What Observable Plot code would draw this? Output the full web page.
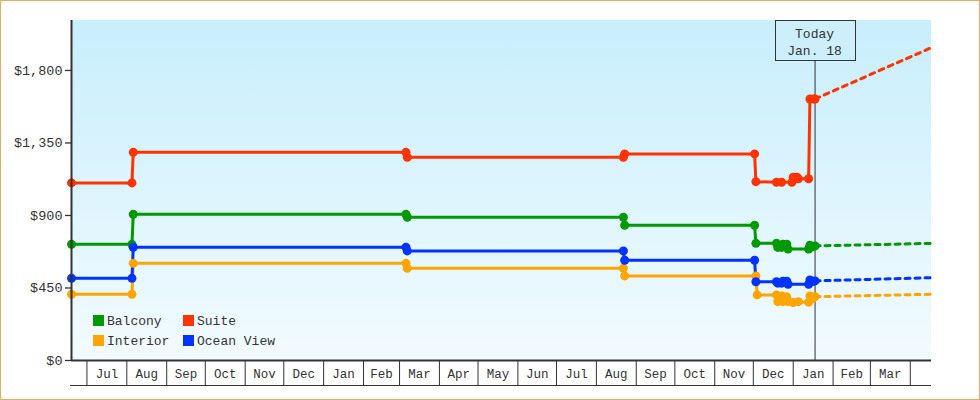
<!DOCTYPE html>
<html>
<head>
<meta charset="utf-8">
<script src="https://cdn.jsdelivr.net/npm/d3@7"></script>
<script src="https://cdn.jsdelivr.net/npm/@observablehq/plot@0.6"></script>
<style>
  body { margin: 0; background: #fff; }
  #chart svg { display: block; }
</style>
</head>
<body>
<div id="chart"></div>
<script>
// ---- data ----
const seriesNames = ["Balcony", "Suite", "Interior", "Ocean View"];
const seriesColors = ["#009900", "#ff3300", "#ffa500", "#0033ff"];

const balcony = [
  ["2022-06-19", 721], ["2022-08-05", 721], ["2022-08-06", 907],
  ["2023-03-06", 907], ["2023-03-07", 889], ["2023-08-22", 889], ["2023-08-23", 839],
  ["2023-12-02", 839], ["2023-12-03", 727], ["2023-12-19", 727], ["2023-12-20", 702],
  ["2023-12-23", 702], ["2023-12-24", 722], ["2023-12-27", 722], ["2023-12-28", 692],
  ["2024-01-13", 692], ["2024-01-14", 716], ["2024-01-16", 706], ["2024-01-18", 711]
];
const suite = [
  ["2022-06-19", 1102], ["2022-08-05", 1102], ["2022-08-06", 1292],
  ["2023-03-06", 1292], ["2023-03-07", 1261], ["2023-08-22", 1261], ["2023-08-23", 1282],
  ["2023-12-02", 1282], ["2023-12-03", 1110], ["2023-12-19", 1106], ["2023-12-23", 1106],
  ["2023-12-31", 1106], ["2024-01-01", 1137], ["2024-01-04", 1137], ["2024-01-05", 1128],
  ["2024-01-13", 1128], ["2024-01-14", 1623], ["2024-01-17", 1623], ["2024-01-18", 1623]
];
const interior = [
  ["2022-06-19", 411], ["2022-08-05", 411], ["2022-08-06", 603],
  ["2023-03-06", 603], ["2023-03-07", 572], ["2023-08-22", 572], ["2023-08-23", 525],
  ["2023-12-03", 525], ["2023-12-04", 407], ["2023-12-19", 407], ["2023-12-20", 365],
  ["2023-12-23", 400], ["2023-12-24", 365], ["2023-12-27", 395], ["2023-12-28", 365],
  ["2024-01-01", 360], ["2024-01-05", 365], ["2024-01-13", 362], ["2024-01-14", 400],
  ["2024-01-16", 385], ["2024-01-18", 396]
];
const oceanView = [
  ["2022-06-19", 510], ["2022-08-05", 510], ["2022-08-06", 703],
  ["2023-03-06", 703], ["2023-03-07", 680], ["2023-08-22", 680], ["2023-08-23", 622],
  ["2023-12-02", 622], ["2023-12-03", 489], ["2023-12-19", 489], ["2023-12-20", 480],
  ["2023-12-23", 480], ["2023-12-24", 492], ["2023-12-27", 492], ["2023-12-28", 473],
  ["2024-01-13", 473], ["2024-01-14", 500], ["2024-01-16", 490], ["2024-01-18", 494]
];
const observed = [balcony, suite, interior, oceanView];
const projectedEnd = [727, 1942, 411, 514];

const xDomain = ["2022-06-19", "2024-04-17"];
const todayDate = "2024-01-18";
const todayLabel = ["Today", "Jan. 18"];
const yTicks = [0, 450, 900, 1350, 1800];
const monthStarts = [
  "2022-07-01", "2022-08-01", "2022-09-01", "2022-10-01", "2022-11-01", "2022-12-01",
  "2023-01-01", "2023-02-01", "2023-03-01", "2023-04-01", "2023-05-01", "2023-06-01",
  "2023-07-01", "2023-08-01", "2023-09-01", "2023-10-01", "2023-11-01", "2023-12-01",
  "2024-01-01", "2024-02-01", "2024-03-01", "2024-04-01"
];
const monthLabels = ["Jul", "Aug", "Sep", "Oct", "Nov", "Dec", "Jan", "Feb", "Mar", "Apr", "May", "Jun",
  "Jul", "Aug", "Sep", "Oct", "Nov", "Dec", "Jan", "Feb", "Mar"];

// ---- build tables ----
const parse = d3.utcParse("%Y-%m-%d");
const xStart = parse(xDomain[0]);
const xEnd = new Date(+parse(xDomain[1]) + 12 * 3600 * 1000);
const today = parse(todayDate);

const obs = [];
seriesNames.forEach((name, i) => {
  for (const [d, p] of observed[i]) obs.push({series: name, date: parse(d), price: p});
});
const proj = seriesNames.flatMap((name, i) => {
  const last = observed[i][observed[i].length - 1];
  return [
    {series: name, date: parse(last[0]), price: last[1]},
    {series: name, date: xEnd, price: projectedEnd[i]}
  ];
});
const startDates = monthStarts.map(parse);
const midDates = monthLabels.map((_, i) => new Date((+startDates[i] + +startDates[i + 1]) / 2));
const labelByTime = new Map(midDates.map((d, i) => [+d, monthLabels[i]]));

const FONT = "'Liberation Mono', 'DejaVu Sans Mono', monospace";
const INK = "#333";

const backgroundMark = (index, scales, values, dims) => {
  const g = d3.create("svg:g");
  const grad = g.append("defs").append("linearGradient")
    .attr("id", "bgGrad").attr("x1", 0).attr("y1", 0).attr("x2", 0).attr("y2", 1);
  grad.append("stop").attr("offset", "0%").attr("stop-color", "#c8eefc");
  grad.append("stop").attr("offset", "100%").attr("stop-color", "#f2fbff");
  g.append("rect")
    .attr("x", dims.marginLeft).attr("y", dims.marginTop)
    .attr("width", dims.width - dims.marginLeft - dims.marginRight)
    .attr("height", dims.height - dims.marginTop - dims.marginBottom)
    .attr("fill", "url(#bgGrad)");
  g.append("rect")
    .attr("x", 0.5).attr("y", 0.5).attr("width", dims.width - 1).attr("height", dims.height - 1)
    .attr("fill", "none").attr("stroke", "#eaaa64");
  return g.node();
};

const overlayMark = (index, scales, values, dims) => {
  const g = d3.create("svg:g").attr("font-family", FONT).attr("fill", INK);
  // bottom line of month strip
  const yb = dims.height - dims.marginBottom + 25.5;
  g.append("line")
    .attr("x1", dims.marginLeft - 1).attr("x2", dims.width - dims.marginRight)
    .attr("y1", yb).attr("y2", yb).attr("stroke", INK);
  // today box
  const tx = scales.x(today);
  g.append("rect")
    .attr("x", Math.round(tx) - 40 + 0.5).attr("y", dims.marginTop + 0.5)
    .attr("width", 80).attr("height", 40)
    .attr("fill", "#cdeffc").attr("stroke", INK);
  todayLabel.forEach((t, i) => {
    g.append("text").attr("x", tx).attr("y", dims.marginTop + 17.5 + i * 17.5)
      .attr("text-anchor", "middle").attr("font-size", 13).text(t);
  });
  // legend
  seriesNames.forEach((name, i) => {
    const col = i % 2, row = Math.floor(i / 2);
    const lx = 93 + col * 90, ly = 315 + row * 20;
    g.append("rect").attr("x", lx).attr("y", ly).attr("width", 11).attr("height", 11)
      .attr("fill", scales.color(name));
    g.append("text").attr("x", lx + 14).attr("y", ly + 10)
      .attr("text-anchor", "start").attr("font-size", 13).text(name);
  });
  return g.node();
};

const chart = Plot.plot({
  width: 980,
  height: 400,
  marginLeft: 71,
  marginRight: 49,
  marginTop: 20,
  marginBottom: 40,
  style: {fontFamily: FONT, fontSize: "13px", color: INK, background: "transparent", overflow: "visible"},
  x: {type: "utc", domain: [xStart, xEnd], label: null},
  y: {domain: [0, 2110], label: null},
  color: {domain: seriesNames, range: seriesColors},
  marks: [
    backgroundMark,
    Plot.axisY({ticks: yTicks, tickFormat: d => "$" + d3.format(",")(d), tickSize: 6, tickPadding: 3,
      fontSize: 13.5, stroke: INK, fill: INK, strokeWidth: 1.3, label: null}),
    Plot.axisX({ticks: startDates, tickSize: 25, tickFormat: () => "", stroke: INK, label: null}),
    Plot.axisX({ticks: midDates, tickSize: 0, tickPadding: 9, tickFormat: d => labelByTime.get(+d),
      fontSize: 12.5, fill: INK, label: null}),
    Plot.ruleX([today], {insetTop: 40, stroke: INK, strokeWidth: 1}),
    Plot.line(proj, {x: "date", y: "price", z: "series", stroke: "series", strokeWidth: 3, strokeDasharray: "5,5"}),
    Plot.line(obs, {x: "date", y: "price", z: "series", stroke: "series", strokeWidth: 3}),
    Plot.dot(obs, {x: "date", y: "price", fill: "series", r: 4.5}),
    Plot.ruleX([xStart], {stroke: INK, strokeWidth: 2}),
    Plot.ruleY([0], {stroke: INK, strokeWidth: 2}),
    overlayMark
  ]
});
document.getElementById("chart").append(chart);
</script>
</body>
</html>
